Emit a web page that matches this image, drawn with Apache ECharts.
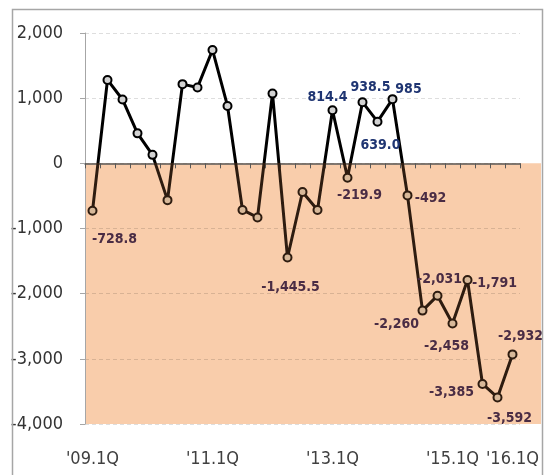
<!DOCTYPE html>
<html>
<head>
<meta charset="utf-8">
<script src="https://cdn.jsdelivr.net/npm/echarts@6/dist/echarts.min.js"></script>
<style>
  html, body { margin: 0; padding: 0; background: #ffffff; }
  #chart { width: 545px; height: 475px; }
</style>
</head>
<body>
<div id="chart"></div>
<script>
// Quarterly values, '09.1Q through '16.1Q
const quarters = [
  "'09.1Q", "'09.2Q", "'09.3Q", "'09.4Q",
  "'10.1Q", "'10.2Q", "'10.3Q", "'10.4Q",
  "'11.1Q", "'11.2Q", "'11.3Q", "'11.4Q",
  "'12.1Q", "'12.2Q", "'12.3Q", "'12.4Q",
  "'13.1Q", "'13.2Q", "'13.3Q", "'13.4Q",
  "'14.1Q", "'14.2Q", "'14.3Q", "'14.4Q",
  "'15.1Q", "'15.2Q", "'15.3Q", "'15.4Q",
  "'16.1Q"
];
const values = [
  -728.8, 1280, 980, 460,
  130, -565, 1215, 1165,
  1740, 880, -715, -830,
  1070, -1445.5, -440, -715,
  814.4, -219.9, 938.5, 639.0,
  985, -492, -2260, -2031,
  -2458, -1791, -3385, -3592,
  -2932
];
// decimals shown in each value label (null = no label)
const labelDecimals = [
  1, null, null, null,
  null, null, null, null,
  null, null, null, null,
  null, 1, null, null,
  1, 1, 1, 1,
  0, 0, 0, 0,
  0, 0, 0, 0,
  0
];
// quarters that carry an axis label
const tickQuarters = ["'09.1Q", "'11.1Q", "'13.1Q", "'15.1Q", "'16.1Q"];
const yMin = -4000, yMax = 2000, yStep = 1000;

// where each value label sits around its point: [dx, dy]
const labelOffsets = {
  0: [22, 29], 13: [3, 30], 16: [-5, -13], 17: [12, 18], 18: [8, -15],
  19: [3, 24], 20: [16, -10], 21: [23, 3], 22: [-26, 14], 23: [2, -16],
  24: [-6, 23], 25: [27, 3], 26: [-31, 8], 27: [12, 21], 28: [8, -18]
};

const FONT = "'DejaVu Sans Condensed', 'Liberation Sans Narrow', 'Liberation Sans', sans-serif";
const LINE_POS = '#000000';
const LINE_NEG = '#2e1c10';

function fmt(v, d) {
  return v.toLocaleString('en-US', { minimumFractionDigits: d, maximumFractionDigits: d });
}

const pointData = values.map(function (v, i) {
  const neg = v < 0;
  const item = {
    value: v,
    itemStyle: {
      color: neg ? '#d7b899' : '#d2d2d2',
      borderColor: neg ? LINE_NEG : LINE_POS
    }
  };
  if (labelDecimals[i] !== null) {
    item.label = {
      show: true,
      position: 'inside',
      offset: labelOffsets[i] || [0, -14],
      formatter: fmt(v, labelDecimals[i]),
      color: neg ? '#4a2c44' : '#1f3572'
    };
  } else {
    item.label = { show: false };
  }
  return item;
});

const chart = echarts.init(document.getElementById('chart'), null, { renderer: 'canvas' });

chart.setOption({
  animation: false,
  backgroundColor: '#ffffff',
  textStyle: { fontFamily: FONT },
  graphic: [{
    type: 'rect',
    z: 100,
    shape: { x: 12.5, y: 9.5, width: 530, height: 490 },
    style: { fill: 'none', stroke: '#a6a6a6', lineWidth: 1.5 }
  }],
  grid: [
    { left: 85, right: 25, top: 33, bottom: 51 },
    { left: 85, right: 4, top: 33, bottom: 51 }
  ],
  xAxis: [
    { // zero line with quarter ticks
      type: 'category', gridIndex: 0, data: quarters, boundaryGap: true, z: 2,
      axisLine: { onZero: true, lineStyle: { color: '#595959', width: 1.5 } },
      axisTick: { show: true, interval: 0, length: 5, lineStyle: { color: '#595959' } },
      axisLabel: { show: false },
      splitLine: { show: false }
    },
    { // quarter labels along the bottom
      type: 'category', gridIndex: 0, data: quarters, position: 'bottom', boundaryGap: true, z: 2,
      axisLine: { show: false, onZero: false },
      axisTick: { show: false },
      axisLabel: {
        margin: 26,
        fontSize: 18,
        color: '#404040',
        fontFamily: FONT,
        interval: function (idx, name) { return tickQuarters.indexOf(name) >= 0; }
      }
    },
    { type: 'category', gridIndex: 1, data: quarters, show: false }
  ],
  yAxis: [
    {
      type: 'value', gridIndex: 0, min: yMin, max: yMax, interval: yStep, z: 2,
      axisLine: { show: true, lineStyle: { color: '#a6a6a6' } },
      axisTick: { show: true, length: 5, lineStyle: { color: '#a6a6a6' } },
      axisLabel: {
        margin: 22,
        fontSize: 18,
        color: '#333333',
        fontFamily: FONT,
        formatter: function (v) { return v.toLocaleString('en-US'); }
      },
      splitLine: { show: true, lineStyle: { color: 'rgba(0,0,0,0.13)', type: [4, 3], width: 1 } }
    },
    { type: 'value', gridIndex: 1, min: yMin, max: yMax, show: false }
  ],
  series: [
    { // shaded band below zero
      type: 'line', xAxisIndex: 2, yAxisIndex: 1, data: [], z: 0, silent: true,
      markArea: {
        silent: true,
        z: 0,
        itemStyle: { color: '#f9cdab' },
        data: [[{ yAxis: 0 }, { yAxis: yMin }]]
      }
    },
    { // connecting line
      type: 'line', xAxisIndex: 0, yAxisIndex: 0, data: values, z: 3,
      showSymbol: false, symbol: 'none',
      lineStyle: { width: 3, color: LINE_POS }
    },
    { // point markers and value labels
      type: 'line', xAxisIndex: 0, yAxisIndex: 0, data: pointData, z: 4,
      symbol: 'circle', symbolSize: 8, showSymbol: true,
      lineStyle: { opacity: 0, width: 0 },
      itemStyle: { borderWidth: 2 },
      label: {
        fontFamily: FONT, fontSize: 14, fontWeight: 'bold'
      }
    }
  ]
});

// line turns brown where it crosses below the zero line
const zeroY = chart.convertToPixel({ yAxisIndex: 0 }, 0);
const H = chart.getHeight();
const split = zeroY / H;
chart.setOption({
  series: [{}, {
    lineStyle: {
      color: {
        type: 'linear', x: 0, y: 0, x2: 0, y2: H, global: true,
        colorStops: [
          { offset: 0, color: LINE_POS },
          { offset: split, color: LINE_POS },
          { offset: split, color: LINE_NEG },
          { offset: 1, color: LINE_NEG }
        ]
      }
    }
  }]
});
</script>
</body>
</html>
